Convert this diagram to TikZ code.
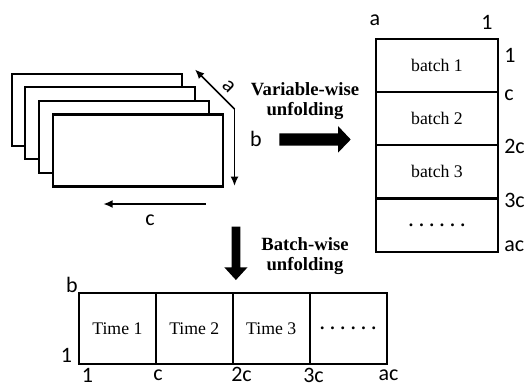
\documentclass[tikz,border=0pt]{standalone}
\usepackage{fontspec}
\setmainfont{Liberation Serif}
\newfontfamily\lblfont{Carlito}
\usetikzlibrary{arrows.meta}
\begin{document}
\begin{tikzpicture}[x=0.75pt,y=-0.75pt,
  slab/.style={draw, fill=white, line width=1.6pt, minimum width=127.5pt, minimum height=54pt, inner sep=0pt},
  vcell/.style={draw, line width=1.6pt, minimum width=92pt, minimum height=40pt, inner sep=0pt, font=\fontsize{13.3}{15}\selectfont},
  hcell/.style={draw, line width=1.6pt, minimum width=57.7pt, minimum height=53.5pt, inner sep=0pt, font=\fontsize{13.3}{15}\selectfont},
  lbl/.style={inner sep=0pt, font=\lblfont\fontsize{16.5}{18}\selectfont},
  caption/.style={inner sep=0pt, align=center, font=\bfseries\fontsize{14}{15}\selectfont},
  axis/.style={line width=1.3pt, -{Latex[length=7pt,width=6pt]}},
  bigarrow/.style={fill=black}]
\useasboundingbox (0,0) rectangle (528,387);

% stacked slabs
\node[slab] (s1) at (96.7,109.7) {};
\node[slab] (s2) at (110.4,123.3) {};
\node[slab] (s3) at (124.3,137.2) {};
\node[slab] (s4) at (138,150.5) {};

% axes of the stack
\coordinate (corner) at (234.5,109);
\coordinate (aend) at (195,69.5);
\coordinate (bend) at (234.5,186);
\coordinate (cstart) at (205.7,204);
\coordinate (cend) at (103.3,204);
\draw[axis] (corner) -- (aend);
\draw[axis] (corner) -- (bend);
\draw[axis] (cstart) -- (cend);
\node[lbl, rotate=-45] (la) at (228.5,86.5) {a};
\node[lbl] (lb) at (256,139) {b};
\node[lbl] (lc) at (150,220) {c};

% variable-wise unfolding arrow
\fill[bigarrow] (279.3,133.3) -- (338,133.3) -- (338,126) -- (350.7,139.5) -- (338,152.7) -- (338,145.7) -- (279.3,145.7) -- cycle;
\node[caption] (vw) at (305,101) {Variable-wise\\unfolding};

% right unfolded matrix
\node[vcell] (b1) at (437,65.3) {batch 1};
\node[vcell] (b2) at (437,118.6) {batch 2};
\node[vcell] (b3) at (437,171.8) {batch 3};
\node[vcell] (b4) at (437,225.1) {\bfseries .\,\,.\,\,.\,\,.\,\,.\,\,.};
\node[lbl] (ra) at (375,20) {a};
\node[lbl] (r1t) at (487,22) {1};
\node[lbl, anchor=west] (r1) at (504,55) {1};
\node[lbl, anchor=west] (rc) at (504,95) {c};
\node[lbl, anchor=west] (r2c) at (504,146) {2c};
\node[lbl, anchor=west] (r3c) at (504,200) {3c};
\node[lbl, anchor=west] (rac) at (504,246) {ac};

% batch-wise unfolding arrow
\fill[bigarrow] (231.5,226.7) -- (240.3,226.7) -- (240.3,267.3) -- (247.5,267.3) -- (235.9,280) -- (224.3,267.3) -- (231.5,267.3) -- cycle;
\node[caption] (bw) at (305,256) {Batch-wise\\unfolding};

% bottom unfolded matrix
\node[hcell] (t1) at (117.4,328.3) {Time 1};
\node[hcell] (t2) at (194.3,328.3) {Time 2};
\node[hcell] (t3) at (271.2,328.3) {Time 3};
\node[hcell] (t4) at (348.1,328.3) {\bfseries .\,\,.\,\,.\,\,.\,\,.\,\,.};
\node[lbl] (hb) at (72,285) {b};
\node[lbl] (h1l) at (66.5,355) {1};
\node[lbl] (h1) at (87.5,375) {1};
\node[lbl] (hc) at (158,375) {c};
\node[lbl] (h2c) at (241.5,374) {2c};
\node[lbl] (h3c) at (313.5,375) {3c};
\node[lbl] (hac) at (388.5,375) {ac};
\end{tikzpicture}
\end{document}
